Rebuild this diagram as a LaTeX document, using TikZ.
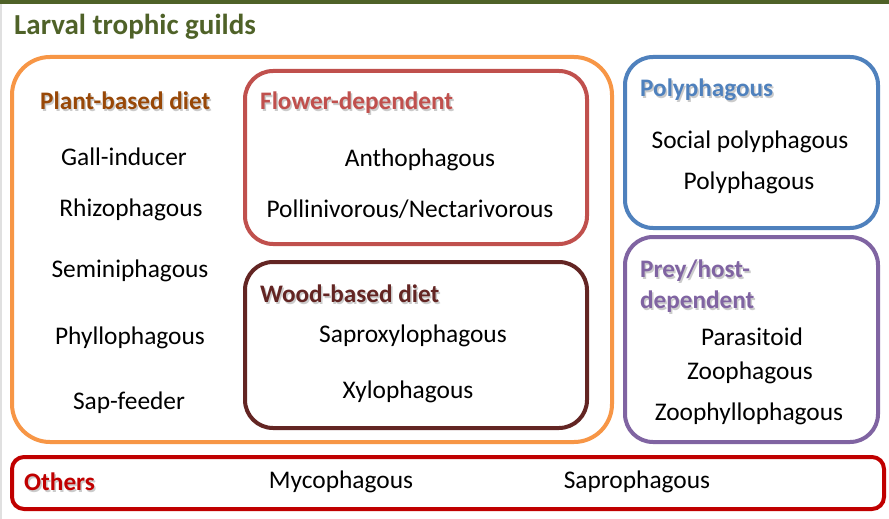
\documentclass[tikz,border=0pt]{standalone}
\usepackage{fontspec}
\setmainfont{Carlito}
\definecolor{titlegreen}{HTML}{4F6228}
\definecolor{orangeC}{HTML}{F79646}
\definecolor{plantC}{HTML}{984807}
\definecolor{flowerC}{HTML}{C0504D}
\definecolor{woodC}{HTML}{632523}
\definecolor{polyC}{HTML}{4F81BD}
\definecolor{preyC}{HTML}{8064A2}
\definecolor{otherC}{HTML}{C00000}
\tikzset{
  box/.style={draw=#1, line width=4pt, rounded corners=28pt, inner sep=0pt, fill=none},
  item/.style={font=\fontsize{25.4}{30}\selectfont, inner sep=0pt, text=black},
  lbl/.style={font=\fontsize{25.2}{31}\selectfont\bfseries, inner sep=0pt, anchor=west, align=left},
  shadowlbl/.style={lbl, text=black!45, opacity=0.45, xshift=1.5pt, yshift=-1.5pt},
}
\newcommand{\guildlabel}[4]{%
  \node[shadowlbl] at (#2) {#4};
  \node[lbl, text=#3] (#1) at (#2) {#4};}
\begin{document}
\begin{tikzpicture}[x=1pt,y=-1pt]
\useasboundingbox (0,0) rectangle (889,519);
\fill[white] (0,0) rectangle (889,519);
% top bar and left edge
\fill[titlegreen] (0,0) rectangle (889,4.5);
\fill[black!12] (0,4.5) rectangle (1.5,519);
% title
\node[font=\fontsize{29}{34}\selectfont\bfseries, text=titlegreen, anchor=west, inner sep=0pt] (title) at (14,27) {Larval trophic guilds};
% boxes
\node[box=orangeC, minimum width=600pt, minimum height=385pt, rounded corners=38pt] (plantbox) at (312,249.5) {};
\node[box=flowerC, minimum width=342pt, minimum height=173pt] (flowerbox) at (416,157.5) {};
\node[box=woodC, minimum width=342pt, minimum height=166pt] (woodbox) at (416,345) {};
\node[box=polyC, minimum width=253pt, minimum height=171pt] (polybox) at (751.5,142.5) {};
\node[box=preyC, minimum width=253pt, minimum height=205pt] (preybox) at (751.5,339.5) {};
\node[box=otherC, minimum width=872pt, minimum height=52pt, rounded corners=12pt] (otherbox) at (448,483) {};
% labels
\guildlabel{plantlbl}{40,101}{plantC}{Plant-based diet}
\guildlabel{flowerlbl}{260,103}{flowerC}{Flower-dependent}
\guildlabel{woodlbl}{260,294}{woodC}{Wood-based diet}
\guildlabel{polylbl}{640,90}{polyC}{Polyphagous}
\guildlabel{preylbl}{640,286.5}{preyC}{Prey/host-\\dependent}
\guildlabel{otherlbl}{24,482}{otherC}{Others}
% plant items
\node[item] (gall) at (124,157) {Gall-inducer};
\node[item] (rhizo) at (131,210) {Rhizophagous};
\node[item] (semini) at (130,271) {Seminiphagous};
\node[item] (phyllo) at (130,338) {Phyllophagous};
\node[item] (sap) at (129,403) {Sap-feeder};
% flower items
\node[item] (antho) at (420,160) {Anthophagous};
\node[item] (pollen) at (410,209) {Pollinivorous/Nectarivorous};
% wood items
\node[item] (saproxy) at (413,336) {Saproxylophagous};
\node[item] (xylo) at (408,392) {Xylophagous};
% poly items
\node[item] (socpoly) at (750,142) {Social polyphagous};
\node[item] (poly) at (749,183) {Polyphagous};
% prey items
\node[item] (parasit) at (752,337) {Parasitoid};
\node[item] (zoo) at (750,373) {Zoophagous};
\node[item] (zoophyl) at (749,414) {Zoophyllophagous};
% others items
\node[item] (myco) at (341,482) {Mycophagous};
\node[item] (sapro) at (637,482) {Saprophagous};
\end{tikzpicture}
\end{document}
